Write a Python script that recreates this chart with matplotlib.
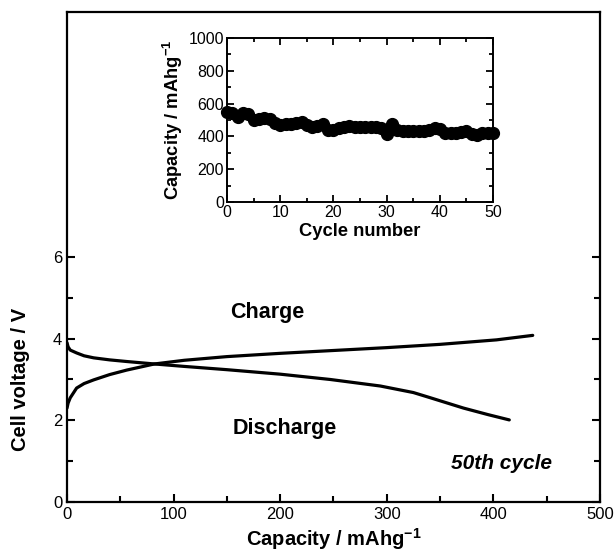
import matplotlib
matplotlib.use("Agg")
import matplotlib.pyplot as plt
from matplotlib.ticker import MultipleLocator

plt.rcParams['font.family'] = ['Liberation Sans', 'DejaVu Sans']
plt.rcParams['mathtext.fontset'] = 'custom'
plt.rcParams['mathtext.rm'] = 'Liberation Sans'
plt.rcParams['mathtext.bf'] = 'Liberation Sans:bold'

# Main panel: 50th cycle voltage profiles
charge_cap = [0, 1, 3, 9, 16, 25, 40, 56, 82, 110, 150, 200, 250, 300, 350, 403, 437]
charge_v = [2.3, 2.42, 2.55, 2.79, 2.9, 2.99, 3.12, 3.23, 3.38, 3.47, 3.56, 3.64, 3.71, 3.78, 3.86, 3.97, 4.08]
discharge_cap = [0, 1, 3, 9, 16, 25, 40, 56, 82, 110, 150, 200, 247, 294, 325, 340, 372, 395, 415]
discharge_v = [3.9, 3.8, 3.72, 3.65, 3.58, 3.53, 3.48, 3.44, 3.38, 3.32, 3.24, 3.13, 3.0, 2.84, 2.68, 2.56, 2.3, 2.14, 2.01]

# Inset: capacity vs cycle number
cycles = list(range(0, 51))
capacity = [550, 540, 520, 540, 535, 500, 505, 510, 505, 480, 470,
            475, 475, 480, 490, 470, 460, 465, 475, 440, 440,
            450, 460, 465, 460, 460, 455, 460, 455, 450, 415,
            475, 440, 435, 435, 430, 430, 430, 440, 450, 445,
            420, 420, 420, 425, 430, 415, 410, 420, 420, 420]

fig = plt.figure(figsize=(6.16, 5.55), dpi=100)
ax = fig.add_axes([0.1088, 0.0955, 0.865, 0.883])
ax.plot(charge_cap, charge_v, color='black', lw=2.3, solid_capstyle='round', solid_joinstyle='round')
ax.plot(discharge_cap, discharge_v, color='black', lw=2.3, solid_capstyle='round', solid_joinstyle='round')
ax.set_xlim(0, 500)
ax.set_ylim(0, 12)
ax.set_xticks([0, 100, 200, 300, 400, 500])
ax.set_xticks([50, 150, 250, 350, 450], minor=True)
ax.set_yticks([0, 2, 4, 6])
ax.set_yticks([1, 3, 5], minor=True)
ax.tick_params(which='both', direction='in', right=True, top=False, width=1.5, labelsize=12)
ax.tick_params(which='major', length=6)
ax.tick_params(which='minor', length=4)
for s in ax.spines.values():
    s.set_linewidth(1.6)
ax.set_xlabel(r'Capacity / mAhg$^{\mathbf{-1}}$', fontsize=14.5, fontweight='bold', labelpad=3)
ax.set_ylabel('Cell voltage / V', fontsize=14.5, fontweight='bold')
ax.yaxis.set_label_coords(-0.07, 0.25)
ax.text(188, 4.63, 'Charge', fontsize=15.5, fontweight='bold', ha='center', va='center')
ax.text(204, 1.81, 'Discharge', fontsize=15.5, fontweight='bold', ha='center', va='center')
ax.text(408, 0.95, '50th cycle', fontsize=15, fontweight='bold', style='italic', ha='center', va='center')

ins = fig.add_axes([0.3685, 0.636, 0.432, 0.2955])
ins.plot(cycles, capacity, 'o', color='black', ms=8.5, clip_on=False)
ins.set_xlim(0, 50)
ins.set_ylim(0, 1000)
ins.xaxis.set_major_locator(MultipleLocator(10))
ins.xaxis.set_minor_locator(MultipleLocator(5))
ins.yaxis.set_major_locator(MultipleLocator(200))
ins.yaxis.set_minor_locator(MultipleLocator(100))
ins.tick_params(which='both', direction='in', right=True, top=True, width=1.3, labelsize=11.5, pad=2)
ins.tick_params(which='major', length=5)
ins.tick_params(which='minor', length=3)
for s in ins.spines.values():
    s.set_linewidth(1.4)
ins.set_xlabel('Cycle number', fontsize=13.2, fontweight='bold', labelpad=2)
ins.set_ylabel(r'Capacity / mAhg$^{\mathbf{-1}}$', fontsize=13.2, fontweight='bold', labelpad=3)

fig.savefig('out.png', dpi=100)
